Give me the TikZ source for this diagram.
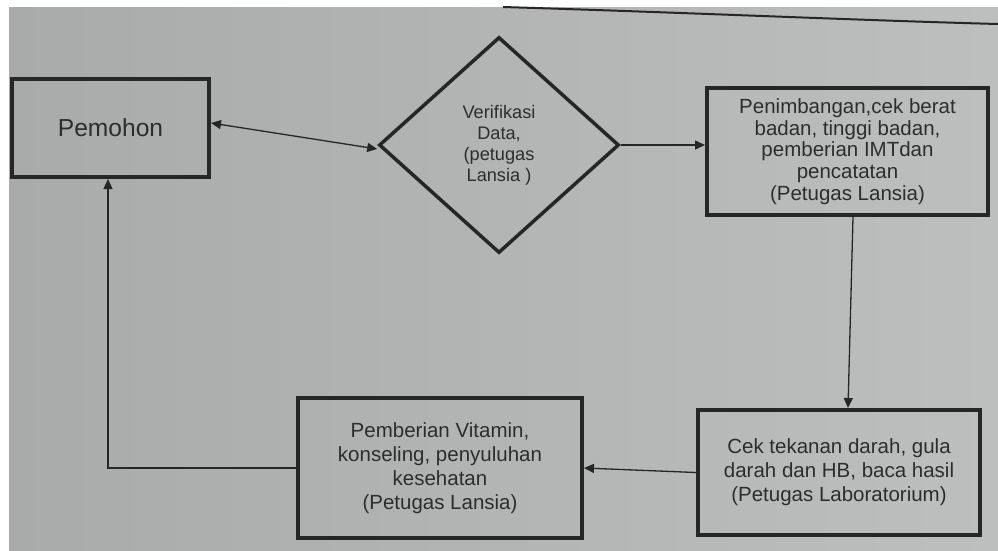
\documentclass[tikz,border=0pt]{standalone}
\usepackage{fontspec}
\setmainfont{Liberation Sans}
\usetikzlibrary{shapes.geometric,arrows.meta}
\definecolor{paperLeft}{RGB}{169,171,171}
\definecolor{paperRight}{RGB}{189,191,190}
\definecolor{ink}{RGB}{38,38,38}
\definecolor{txt}{RGB}{45,45,45}
\tikzset{
  box/.style={draw=ink, line width=4pt, rectangle, align=center, text=txt, inner sep=2pt},
  dbox/.style={draw=ink, line width=3.5pt, diamond, align=center, text=txt, inner sep=0pt},
  conn/.style={draw=ink, line width=1.3pt, -{Triangle[length=10pt,width=9pt]}},
  bconn/.style={draw=ink, line width=1.3pt, {Triangle[length=10pt,width=9pt]}-{Triangle[length=10pt,width=9pt]}},
  txtA/.style={font=\fontsize{20.5}{21.7}\selectfont},
  txtB/.style={font=\fontsize{20.5}{24}\selectfont},
  txtD/.style={font=\fontsize{18.2}{21}\selectfont},
  txtP/.style={font=\fontsize{24.6}{28}\selectfont}
}
\begin{document}
\begin{tikzpicture}[x=1pt,y=-1pt]
\useasboundingbox (0,0) rectangle (998,550);
\fill[white] (0,0) rectangle (998,550);
\shade[left color=paperLeft, right color=paperRight] (9,7) rectangle (998,550);
% paper edge curve at top
\draw[ink, line width=2pt] (503,7) .. controls (700,13) and (850,20) .. (998,24);

\node[box, txtP, minimum width=197pt, minimum height=98pt] (pem) at (110.5,128) {Pemohon};
\node[dbox, txtD, minimum width=240pt, minimum height=216pt] (dia) at (499,145)
  {Verifikasi\\Data,\\(petugas\\Lansia )};
\node[box, txtA, minimum width=281pt, minimum height=127pt] (pen) at (847.5,151.5)
  {Penimbangan,cek berat\\badan, tinggi badan,\\pemberian IMTdan\\pencatatan\\(Petugas Lansia)};
\node[box, txtB, minimum width=282pt, minimum height=125pt] (cek) at (839,472.5)
  {Cek tekanan darah, gula\\darah dan HB, baca hasil\\(Petugas Laboratorium)};
\node[box, txtB, minimum width=284pt, minimum height=140pt] (vit) at (440,468)
  {Pemberian Vitamin,\\konseling, penyuluhan\\kesehatan\\(Petugas Lansia)};

\draw[bconn] ([yshift=5pt]pem.east) -- ([yshift=-4pt]dia.west);
\draw[conn] (dia.east) -- (dia.east -| pen.west);
\draw[conn] ([xshift=5.5pt]pen.south) -- ([xshift=9pt]cek.north);
\draw[conn] (cek.west) -- (vit.east);
\draw[conn] (vit.west) -| ([xshift=-2.5pt]pem.south);
\end{tikzpicture}
\end{document}
